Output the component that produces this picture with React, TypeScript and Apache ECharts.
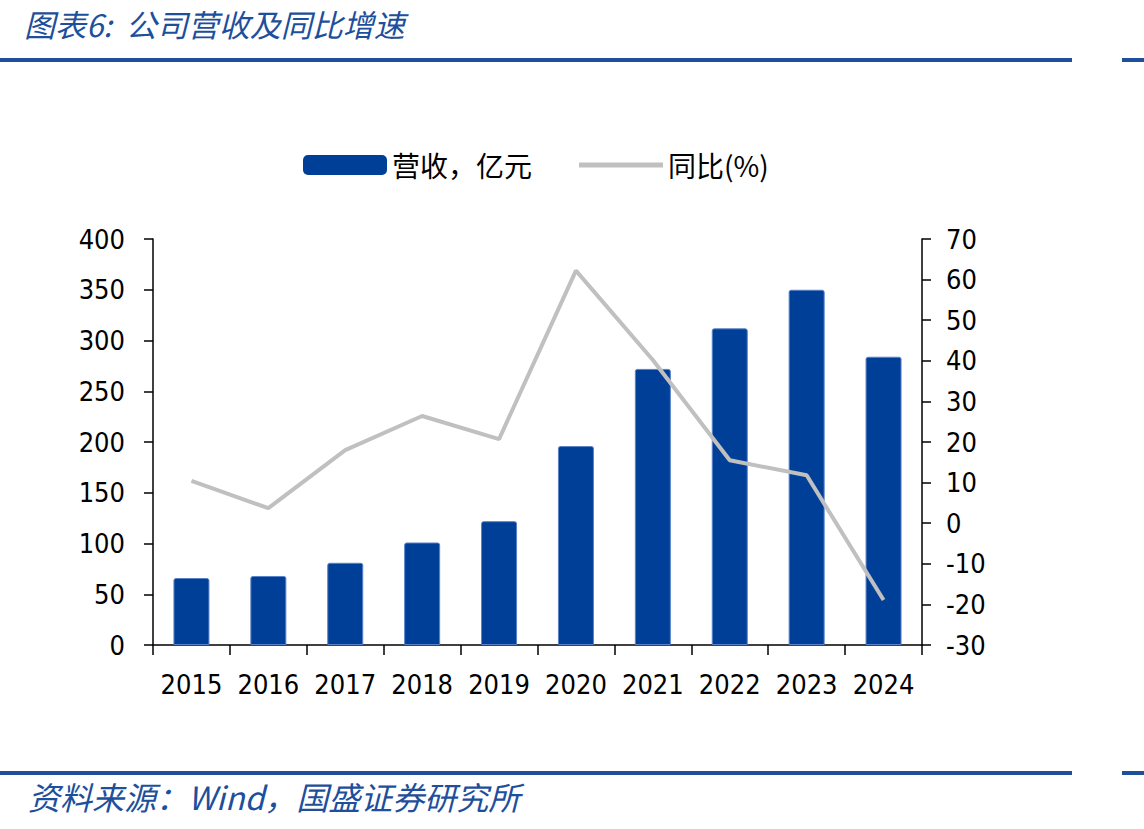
import React, { useEffect, useRef } from "react";
import * as echarts from "echarts";

const years = ["2015", "2016", "2017", "2018", "2019", "2020", "2021", "2022", "2023", "2024"];
const revenue = [66, 68, 81, 101, 122, 196, 272, 312, 350, 284];
const yoy = [10.4, 3.7, 18.0, 26.4, 20.7, 62.2, 40.2, 15.5, 11.8, -18.9];

const titleText = "图表6:  公司营收及同比增速";
const sourceText = "资料来源：Wind，国盛证券研究所";
const barName = "营收，亿元";
const lineName = "同比(%)";

const BLUE = "#003f98";
const GREY = "#c0c0c0";
const HEAD = "#1d4f9c";
const NUM_FONT = "'DejaVu Sans Condensed', 'DejaVu Sans', sans-serif";
const CJK_FONT = "'Noto Sans CJK SC', sans-serif";

export default function App() {
  const ref = useRef<HTMLDivElement>(null);
  useEffect(() => {
    if (!ref.current) return;
    const chart = echarts.init(ref.current, undefined, { renderer: "svg" });
    chart.setOption({
      animation: false,
      backgroundColor: "#ffffff",
      grid: { left: 153, right: 222, top: 239, bottom: 184, containLabel: false },
      legend: {
        left: 298,
        top: 146,
        itemWidth: 84,
        itemHeight: 20,
        itemGap: 47,
        textStyle: { fontSize: 28, color: "#000", fontFamily: CJK_FONT, padding: [0, 0, 0, 0] },
        data: [
          { name: barName, icon: "roundRect", itemStyle: { color: BLUE, borderWidth: 0 } },
          { name: lineName, icon: "path://M0,0 L84,0 L84,5 L0,5 Z", itemStyle: { color: GREY } },
        ],
      },
      graphic: [
        {
          type: "text",
          left: 24,
          top: 8,
          style: {
            text: titleText,
            fontSize: 31,
            fontStyle: "italic",
            fontFamily: CJK_FONT,
            fill: HEAD,
          },
        },
        { type: "rect", shape: { x: 0, y: 58, width: 1072, height: 4 }, style: { fill: HEAD } },
        { type: "rect", shape: { x: 1122, y: 58, width: 22, height: 4 }, style: { fill: HEAD } },
        { type: "rect", shape: { x: 0, y: 771, width: 1072, height: 4 }, style: { fill: HEAD } },
        { type: "rect", shape: { x: 1122, y: 771, width: 22, height: 4 }, style: { fill: HEAD } },
        {
          type: "text",
          left: 28,
          top: 780,
          style: {
            text: sourceText,
            fontSize: 32,
            fontStyle: "italic",
            fontFamily: CJK_FONT,
            fill: HEAD,
          },
        },
      ],
      xAxis: {
        type: "category",
        data: years,
        boundaryGap: true,
        axisLine: { lineStyle: { color: "#000", width: 1.5 } },
        axisTick: { show: true, length: 10, interval: 0, alignWithLabel: false, lineStyle: { color: "#000", width: 1.5 } },
        axisLabel: { fontSize: 27, color: "#000", fontFamily: NUM_FONT, margin: 26, interval: 0 },
      },
      yAxis: [
        {
          type: "value",
          min: 0,
          max: 400,
          interval: 50,
          splitLine: { show: false },
          axisLine: { show: true, lineStyle: { color: "#000", width: 1.5 } },
          axisTick: { show: true, length: 9, lineStyle: { color: "#000", width: 1.5 } },
          axisLabel: { fontSize: 27, color: "#000", fontFamily: NUM_FONT, margin: 28 },
        },
        {
          type: "value",
          min: -30,
          max: 70,
          interval: 10,
          position: "right",
          splitLine: { show: false },
          axisLine: { show: true, lineStyle: { color: "#000", width: 1.5 } },
          axisTick: { show: true, length: 9, lineStyle: { color: "#000", width: 1.5 } },
          axisLabel: { fontSize: 27, color: "#000", fontFamily: NUM_FONT, margin: 24 },
        },
      ],
      series: [
        {
          name: barName,
          type: "bar",
          data: revenue,
          barWidth: 36,
          yAxisIndex: 0,
          itemStyle: { color: BLUE, borderColor: "#5b82c8", borderWidth: 1, borderRadius: [2, 2, 0, 0] },
        },
        {
          name: lineName,
          type: "line",
          data: yoy,
          yAxisIndex: 1,
          symbol: "none",
          lineStyle: { color: GREY, width: 4 },
          itemStyle: { color: GREY },
        },
      ],
    });
    return () => chart.dispose();
  }, []);
  return <div ref={ref} style={{ width: 1144, height: 829, position: "absolute", left: 0, top: 0 }} />;
}
